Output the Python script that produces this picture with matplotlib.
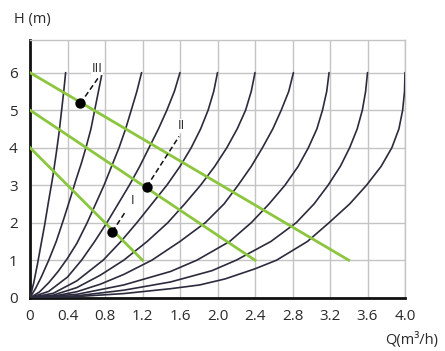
import matplotlib
matplotlib.use("Agg")
import matplotlib.pyplot as plt

plt.rcParams['font.family'] = ['Open Sans', 'DejaVu Sans']

# ---- data ----
x_ticks = [0, 0.4, 0.8, 1.2, 1.6, 2.0, 2.4, 2.8, 3.2, 3.6, 4.0]
x_tick_labels = ["0", "0.4", "0.8", "1.2", "1.6", "2.0", "2.4", "2.8", "3.2", "3.6", "4.0"]
y_ticks = [0, 1, 2, 3, 4, 5, 6]
y_tick_labels = ["0", "1", "2", "3", "4", "5", "6"]

# system curves (Q, H)
c1_q = [0, 0.04, 0.08, 0.12, 0.157, 0.2, 0.245, 0.28, 0.31, 0.335, 0.36, 0.38]
c1_h = [0, 0.4, 0.9, 1.45, 1.95, 2.6, 3.25, 3.85, 4.4, 4.95, 5.5, 6.0]
c2_q = [0, 0.06, 0.12, 0.2, 0.28, 0.36, 0.43, 0.49, 0.55, 0.60, 0.65, 0.69, 0.73, 0.77]
c2_h = [0, 0.25, 0.55, 1.0, 1.5, 2.1, 2.65, 3.14, 3.6, 4.03, 4.5, 5.0, 5.5, 6.0]
c3_q = [0, 0.1, 0.2, 0.3, 0.4, 0.5, 0.61, 0.70, 0.79, 0.87, 0.95, 1.02, 1.08, 1.14, 1.19]
c3_h = [0, 0.15, 0.4, 0.7, 1.05, 1.45, 2.0, 2.5, 3.0, 3.5, 4.0, 4.5, 5.0, 5.5, 6.0]
c4_q = [0, 0.2, 0.4, 0.55, 0.69, 0.82, 0.94, 1.06, 1.17, 1.27, 1.37, 1.46, 1.54, 1.6]
c4_h = [0, 0.17, 0.55, 1.0, 1.5, 2.0, 2.5, 3.0, 3.5, 4.0, 4.5, 5.0, 5.5, 6.0]
c5_q = [0, 0.25, 0.5, 0.78, 0.97, 1.14, 1.30, 1.46, 1.60, 1.72, 1.82, 1.90, 1.96, 2.0]
c5_h = [0, 0.12, 0.45, 1.0, 1.5, 2.0, 2.5, 3.0, 3.5, 4.0, 4.5, 5.0, 5.5, 6.0]
c6_q = [0, 0.25, 0.5, 0.75, 1.0, 1.25, 1.47, 1.65, 1.82, 1.97, 2.10, 2.21, 2.30, 2.36, 2.4]
c6_h = [0, 0.07, 0.27, 0.6, 1.0, 1.5, 2.0, 2.5, 3.0, 3.5, 4.0, 4.5, 5.0, 5.5, 6.0]
c7_q = [0, 0.25, 0.5, 0.75, 1.0, 1.30, 1.60, 1.87, 2.07, 2.22, 2.36, 2.48, 2.59, 2.68, 2.76, 2.81]
c7_h = [0, 0.04, 0.16, 0.36, 0.62, 1.0, 1.5, 2.0, 2.5, 3.0, 3.5, 4.0, 4.5, 5.0, 5.5, 6.0]
c8_q = [0, 0.5, 1.0, 1.5, 1.78, 2.13, 2.36, 2.55, 2.72, 2.86, 2.97, 3.06, 3.12, 3.165, 3.19]
c8_h = [0, 0.09, 0.34, 0.7, 1.0, 1.5, 2.0, 2.5, 3.0, 3.5, 4.0, 4.5, 5.0, 5.5, 6.0]
c9_q = [0, 0.5, 1.0, 1.5, 1.94, 2.20, 2.57, 2.84, 3.03, 3.18, 3.31, 3.41, 3.49, 3.545, 3.58, 3.6]
c9_h = [0, 0.05, 0.2, 0.42, 0.72, 1.0, 1.5, 2.0, 2.5, 3.0, 3.5, 4.0, 4.5, 5.0, 5.5, 6.0]
c10_q = [0, 0.5, 1.0, 1.5, 1.81, 2.08, 2.4, 2.63, 2.96, 3.19, 3.41, 3.59, 3.745, 3.86, 3.935, 3.975, 3.995, 4.0]
c10_h = [0, 0.03, 0.11, 0.24, 0.34, 0.5, 0.77, 1.0, 1.5, 2.0, 2.5, 3.0, 3.5, 4.0, 4.5, 5.0, 5.5, 6.0]

curves_q = [c1_q, c2_q, c3_q, c4_q, c5_q, c6_q, c7_q, c8_q, c9_q, c10_q]
curves_h = [c1_h, c2_h, c3_h, c4_h, c5_h, c6_h, c7_h, c8_h, c9_h, c10_h]

# green pump lines
g3_q = [0, 3.4]
g3_h = [6.0, 1.0]
g2_q = [0, 2.4]
g2_h = [5.0, 1.0]
g1_q = [0, 1.2]
g1_h = [4.0, 1.0]

# operating points and dashed leaders
pt_q = [0.537, 1.245, 0.878]
pt_h = [5.18, 2.96, 1.76]
d3_q = [0.537, 0.725]
d3_h = [5.18, 5.85]
d2_q = [1.245, 1.59]
d2_h = [2.96, 4.30]
d1_q = [0.878, 1.02]
d1_h = [1.76, 2.30]
lab_text = ["III", "II", "I"]
lab_q = [0.715, 1.61, 1.09]
lab_h = [6.12, 4.58, 2.58]

# ---- figure ----
W, H = 445, 351
fig = plt.figure(figsize=(W / 100, H / 100), dpi=100)
ax = fig.add_axes([30 / W, (351 - 297.7) / H, 375 / W, 257.7 / H])
ax.set_xlim(0, 4.0)
ax.set_ylim(0, 6.87)

grid_c = "#c4c4c4"
ax.set_xticks(x_ticks)
ax.set_yticks(y_ticks)
ax.set_xticklabels(x_tick_labels)
ax.set_yticklabels(y_tick_labels)
ax.grid(True, color=grid_c, lw=1.0)
ax.set_axisbelow(True)
ax.tick_params(length=0, labelsize=11, colors="#2a2a2a")
ax.tick_params(axis='x', pad=8)
ax.tick_params(axis='y', pad=12)
for lab in ax.get_yticklabels():
    lab.set_horizontalalignment('center')
for s in ["top", "right"]:
    ax.spines[s].set_color(grid_c)
    ax.spines[s].set_linewidth(1.0)
for s in ["left", "bottom"]:
    ax.spines[s].set_color("#111111")
    ax.spines[s].set_linewidth(2.0)

for q, h in zip(curves_q, curves_h):
    ax.plot(q, h, color="#2b2b3d", lw=1.2, solid_capstyle='round',
            solid_joinstyle='round', zorder=3)

for q, h in [(g1_q, g1_h), (g2_q, g2_h), (g3_q, g3_h)]:
    ax.plot(q, h, color="#8cc63f", lw=2.0, zorder=4)

for q, h in [(d1_q, d1_h), (d2_q, d2_h), (d3_q, d3_h)]:
    ax.plot(q, h, color="#111111", lw=1.1, ls=(0, (3.5, 2)), zorder=5)

ax.scatter(pt_q, pt_h, s=42, color="#000000", zorder=6)

for t, q, h in zip(lab_text, lab_q, lab_h):
    ax.text(q, h, t, ha='center', va='center', fontsize=9.5, color="#2a2a2a",
            zorder=7, bbox=dict(facecolor='white', edgecolor='none', pad=0.3))

fig.text(32 / W, 1 - 20 / H, "H (m)", ha='center', va='center', fontsize=10.5, color="#2a2a2a")
fig.text(438 / W, 1 - 340 / H, "Q(m³/h)", ha='right', va='center', fontsize=10.5, color="#2a2a2a")

fig.savefig("out.png", dpi=100)
